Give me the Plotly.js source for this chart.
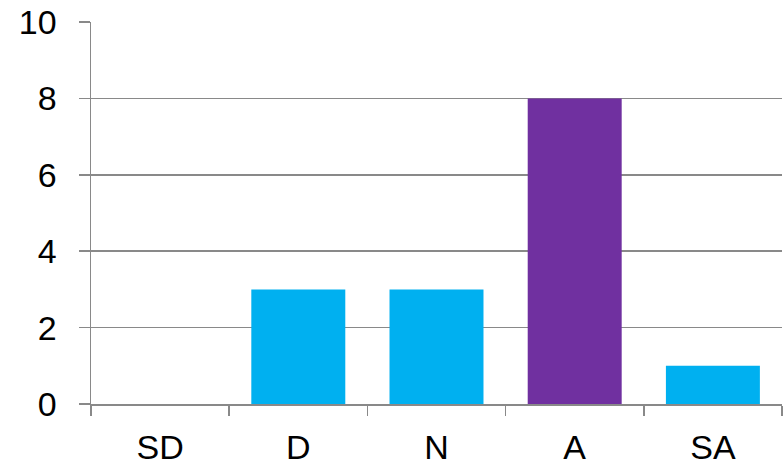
<!DOCTYPE html>
<html>
<head>
<meta charset="utf-8">
<script src="https://cdn.plot.ly/plotly-3.0.1.min.js"></script>
<style>html,body{margin:0;padding:0;background:#fff;}#chart{width:784px;height:465px;}</style>
</head>
<body>
<div id="chart"></div>
<script>
const categories = ["SD", "D", "N", "A", "SA"];
const values = [0, 3, 3, 8, 1];
const barColors = ["#00B0F0", "#00B0F0", "#00B0F0", "#7030A0", "#00B0F0"];
const yTicks = [0, 2, 4, 6, 8, 10];

const gray = "#898989";
const data = [{
  type: "bar",
  x: categories,
  y: values,
  marker: {color: barColors, line: {width: 0}},
  hoverinfo: "x+y"
}];

const layout = {
  width: 784, height: 465,
  margin: {l: 91, r: 2, t: 22, b: 61, pad: 0},
  paper_bgcolor: "#fff", plot_bgcolor: "#fff",
  bargap: 0.32,
  showlegend: false,
  font: {family: "Liberation Sans, Arial, sans-serif", size: 34, color: "#000"},
  xaxis: {
    type: "category",
    tickson: "boundaries",
    ticks: "outside", ticklen: 10, tickwidth: 1.5, tickcolor: gray,
    showline: true, linecolor: gray, linewidth: 1.5,
    showgrid: false, zeroline: false,
    ticklabelstandoff: 13,
    tickfont: {size: 34, color: "#000"}
  },
  yaxis: {
    range: [0, 10],
    tickvals: yTicks,
    ticktext: yTicks.map(String),
    ticks: "outside", ticklen: 11, tickwidth: 1.5, tickcolor: gray,
    showline: true, linecolor: gray, linewidth: 1.5,
    showgrid: true, gridcolor: gray, gridwidth: 1.5,
    zeroline: false,
    ticklabelstandoff: 15,
    tickfont: {size: 34, color: "#000"}
  }
};

Plotly.newPlot("chart", data, layout, {staticPlot: true, displayModeBar: false});
</script>
</body>
</html>
